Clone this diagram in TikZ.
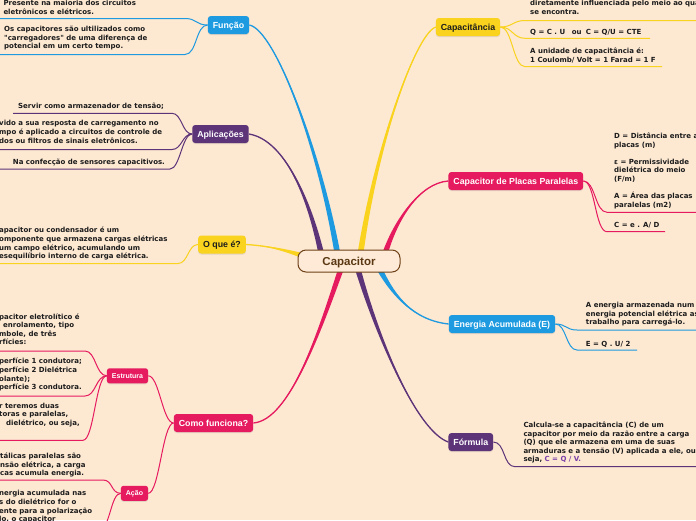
\documentclass[tikz,border=0pt]{standalone}
\usepackage{fontspec}
\usetikzlibrary{calc,shadows}
\newfontfamily\bodyfont{DejaVu Sans}
\newfontfamily\topicfont{Liberation Sans}
\definecolor{bgc}{HTML}{FDE8D2}
\definecolor{cblue}{HTML}{1E9BE0}
\definecolor{cpurp}{HTML}{5E3479}
\definecolor{cyel}{HTML}{F9D31E}
\definecolor{cpink}{HTML}{E61B5F}
\definecolor{txt}{HTML}{1C1C1C}
\definecolor{hubborder}{HTML}{6E4118}
\definecolor{hubtext}{HTML}{5B3813}
\definecolor{hubfill}{HTML}{FEEAD6}
\definecolor{formc}{HTML}{7A3FA8}
\pgfdeclarelayer{bg}
\pgfsetlayers{bg,main}
\newcommand\mainbranch[6]{%
  \fill[#1] ($#2+#6$) .. controls ($#3+0.5*#6$) and #4 .. #5
      .. controls #4 and ($#3-0.5*#6$) .. ($#2-#6$) -- cycle;
  \draw[#1, line width=1.3pt] #2 .. controls #3 and #4 .. #5;
}
\tikzset{
  body/.style={font=\bodyfont\bfseries\fontsize{7}{8.6}\selectfont, text=txt,
    align=left, inner sep=0pt, anchor=north west,
    execute at begin node={\rule{0pt}{6.5pt}}},
  topic/.style={font=\topicfont\bfseries\fontsize{8.8}{10}\selectfont, text=white,
    rounded corners=3pt, inner xsep=5pt, inner ysep=0pt, minimum height=18pt,
    text height=7pt, text depth=0.6pt,
    drop shadow={opacity=0.2, shadow xshift=0pt, shadow yshift=-1pt}},
  subtopic/.style={topic, font=\topicfont\bfseries\fontsize{7}{8}\selectfont,
    minimum height=15pt, text height=5.5pt, text depth=0.5pt, rounded corners=2.5pt},
  hub/.style={draw=hubborder, line width=1pt, fill=hubfill, rounded corners=8pt,
    minimum width=102pt, minimum height=22pt, inner sep=0pt,
    font=\topicfont\bfseries\fontsize{11.5}{12}\selectfont, text=hubtext,
    text height=8.2pt, text depth=0pt},
  link/.style={line width=1pt}
}
\begin{document}
\begin{tikzpicture}[x=1pt,y=-1pt]
\useasboundingbox (0,0) rectangle (696,520);
\clip (0,0) rectangle (696,520);

% ---------- topic nodes ----------
\node[hub] (cap) at (349,261) {Capacitor};
\node[topic, fill=cblue] (func) at (228.5,25) {Função};
\node[topic, fill=cpurp] (apl) at (220.5,134) {Aplicações};
\node[topic, fill=cyel, text=txt] (oque) at (222,244.5) {O que é?};
\node[topic, fill=cpink] (como) at (213.5,423) {Como funciona?};
\node[subtopic, fill=cpink] (estr) at (127.5,375.8) {Estrutura};
\node[subtopic, fill=cpink] (acao) at (134.5,493.3) {Ação};
\node[topic, fill=cyel, text=txt] (capc) at (468,27) {Capacitância};
\node[topic, fill=cpink] (plac) at (515.8,181) {Capacitor de Placas Paralelas};
\node[topic, fill=cblue] (ener) at (502,324) {Energia Acumulada (E)};
\node[topic, fill=cpurp] (form) at (470.8,442) {Fórmula};

% ---------- texts ----------
\node[body] (f1) at (3.3,0) {Presente na maioria dos circuitos\\eletrônicos e elétricos.};
\node[body] (f2) at (4,26) {Os capacitores são ultilizados como\\"carregadores" de uma diferença de\\potencial em um certo tempo.};
\node[body] (a1) at (18,101.7) {Servir como armazenador de tensão;};
\node[body] (a2) at (-1,120.3) {vido a sua resposta de carregamento no\\mpo é aplicado a circuitos de controle de\\dos ou filtros de sinais eletrônicos.};
\node[body] (a3) at (12.7,157.7) {Na confecção de sensores capacitivos.};
\node[body] (o1) at (-1,227) {apacitor ou condensador é um\\omponente que armazena cargas elétricas\\um campo elétrico, acumulando um\\esequilíbrio interno de carga elétrica.};
\node[body] (e1) at (-1,313.3) {pacitor eletrolítico é\\\hspace*{4pt}enrolamento, tipo\\mbole, de três\\rfícies:};
\node[body] (e2) at (-1,358) {perfície 1 condutora;\\perfície 2 Dielétrica\\olante);\\perfície 3 condutora.};
\node[body] (e3) at (-1,402.7) {r teremos duas\\toras e paralelas,\\\hspace*{7pt}dielétrico, ou seja,};
\node[body] (ac1) at (0,452.7) {tálicas paralelas são\\nsão elétrica, a carga\\cas acumula energia.};
\node[body] (ac2) at (-1,490.3) {nergia acumulada nas\\s do dielétrico for o\\ente para a polarização\\lo, o capacitor};

\node[body] (c1) at (530,0.3) {diretamente influenciada pelo meio ao qual\\se encontra.};
\node[body] (c2) at (530,27.7) {Q = C . U\hspace{6.5pt}ou\hspace{4.3pt}C = Q/U = CTE};
\node[body] (c3) at (530,47.7) {A unidade de capacitância é:\\1 Coulomb/ Volt = 1 Farad = 1 F};
\node[body] (p1) at (614,132.7) {D = Distância entre as\\placas (m)\\[8.6pt]ε = Permissividade\\dielétrica do meio\\(F/m)\\[8.6pt]A = Área das placas\\paralelas (m2)};
\node[body] (p2) at (614,221) {C = e . A/ D};
\node[body] (en1) at (585.7,302) {A energia armazenada num capacitor\\energia potencial elétrica associada\\trabalho para carregá-lo.};
\node[body] (en2) at (585.7,339.3) {E = Q . U/ 2};
\node[body] (fo1) at (523.3,421.7) {Calcula-se a capacitância (C) de um\\capacitor por meio da razão entre a carga\\(Q) que ele armazena em uma de suas\\armaduras e a tensão (V) aplicada a ele, ou\\seja, \textcolor{formc}{C = Q / V.}};

% ---------- underline end points ----------
\coordinate (f1a) at (185,18.5);   \coordinate (f1b) at (-2,18.5);
\coordinate (f2a) at (185,54.5);   \coordinate (f2b) at (-2,54.5);
\coordinate (a1a) at (172,113.3);  \coordinate (a1b) at (13,113.3);
\coordinate (a2a) at (172,149.5);  \coordinate (a2b) at (-2,149.5);
\coordinate (a3a) at (170,169);    \coordinate (a3b) at (-2,169);
\coordinate (o1a) at (178,263.5);  \coordinate (o1b) at (-2,263.5);
\coordinate (e1a) at (85,351);     \coordinate (e1b) at (-2,351);
\coordinate (e2a) at (85,396);     \coordinate (e2b) at (-2,396);
\coordinate (e3a) at (83,440.3);   \coordinate (e3b) at (-2,440.3);
\coordinate (ac1a) at (103,480);   \coordinate (ac1b) at (-2,480);
\coordinate (ac2a) at (100,529);   \coordinate (ac2b) at (-2,529);
\coordinate (c1a) at (525,20.5);   \coordinate (c1b) at (700,20.5);
\coordinate (c2a) at (525,38.3);   \coordinate (c2b) at (650,38.3);
\coordinate (c3a) at (525,66.7);   \coordinate (c3b) at (662,66.7);
\coordinate (p1a) at (607,212.3);  \coordinate (p1b) at (700,212.3);
\coordinate (p2a) at (607,231.7);  \coordinate (p2b) at (665,231.7);
\coordinate (en1a) at (577,330);   \coordinate (en1b) at (700,330);
\coordinate (en2a) at (577,350);   \coordinate (en2b) at (637,350);
\coordinate (fo1a) at (515,466.7); \coordinate (fo1b) at (700,466.7);

% ---------- branch roots in the central node ----------
\coordinate (rF) at ($(cap.center)+(-11,-4)$);
\coordinate (rA) at ($(cap.center)+(-27,-4)$);
\coordinate (rO) at ($(cap.center)+(-39,-3)$);
\coordinate (rC) at ($(cap.center)+(11,-4)$);
\coordinate (rP) at ($(cap.center)+(35,-4)$);
\coordinate (rE) at ($(cap.center)+(29,5)$);
\coordinate (rFo) at ($(cap.center)+(8,5)$);
\coordinate (rCo) at ($(cap.center)+(-7,5)$);

\begin{pgfonlayer}{bg}
\fill[bgc] (0,0) rectangle (696,520);
\clip (0,0) rectangle (696,520);
% main branches
\mainbranch{cblue}{(rF)}{(320,150)}{(275,30)}{(func.east)}{(3,0)}
\mainbranch{cpurp}{(rA)}{(310,200)}{(285,140)}{(apl.east)}{(3,0)}
\mainbranch{cyel}{(rO)}{(285,250)}{(270,246)}{(oque.east)}{(0,3)}
\mainbranch{cyel}{(rC)}{(375,150)}{(415,35)}{(capc.west)}{(3,0)}
\mainbranch{cpink}{(rP)}{(395,220)}{(420,183)}{(plac.west)}{(2.5,1.5)}
\mainbranch{cblue}{(rE)}{(390,290)}{(410,320)}{(ener.west)}{(2.7,-1.4)}
\mainbranch{cpurp}{(rFo)}{(375,330)}{(415,430)}{(form.west)}{(3,0)}
\mainbranch{cpink}{(rCo)}{(320,330)}{(290,420)}{(como.east)}{(3,0)}
% sub branches
\draw[link, cblue] (func.west) .. controls +(-12,0) and +(12,0) .. (f1a) -- (f1b);
\draw[link, cblue] (func.west) .. controls +(-12,0) and +(12,0) .. (f2a) -- (f2b);
\draw[link, cpurp] (apl.west) .. controls +(-10,0) and +(10,0) .. (a1a) -- (a1b);
\draw[link, cpurp] (apl.west) .. controls +(-10,0) and +(10,0) .. (a2a) -- (a2b);
\draw[link, cpurp] (apl.west) .. controls +(-10,0) and +(10,0) .. (a3a) -- (a3b);
\draw[link, cyel] (oque.west) .. controls +(-10,0) and +(10,0) .. (o1a) -- (o1b);
\draw[link, cpink] (como.west) .. controls +(-11,0) and +(11,0) .. (estr.east);
\draw[link, cpink] (como.west) .. controls +(-11,0) and +(11,0) .. (acao.east);
\draw[link, cpink] (estr.west) .. controls +(-11,0) and +(11,0) .. (e1a) -- (e1b);
\draw[link, cpink] (estr.west) .. controls +(-11,0) and +(11,0) .. (e2a) -- (e2b);
\draw[link, cpink] (estr.west) .. controls +(-11,0) and +(11,0) .. (e3a) -- (e3b);
\draw[link, cpink] (acao.west) .. controls +(-10,0) and +(10,0) .. (ac1a) -- (ac1b);
\draw[link, cpink] (acao.west) .. controls +(-10,0) and +(10,0) .. (ac2a) -- (ac2b);
\draw[link, cyel] (capc.east) .. controls +(12,0) and +(-12,0) .. (c1a) -- (c1b);
\draw[link, cyel] (capc.east) .. controls +(12,0) and +(-12,0) .. (c2a) -- (c2b);
\draw[link, cyel] (capc.east) .. controls +(12,0) and +(-12,0) .. (c3a) -- (c3b);
\draw[link, cpink] (plac.east) .. controls +(12,0) and +(-12,0) .. (p1a) -- (p1b);
\draw[link, cpink] (plac.east) .. controls +(12,0) and +(-12,0) .. (p2a) -- (p2b);
\draw[link, cblue] (ener.east) .. controls +(11,0) and +(-11,0) .. (en1a) -- (en1b);
\draw[link, cblue] (ener.east) .. controls +(11,0) and +(-11,0) .. (en2a) -- (en2b);
\draw[link, cpurp] (form.east) .. controls +(12,0) and +(-12,0) .. (fo1a) -- (fo1b);
\end{pgfonlayer}
\end{tikzpicture}
\end{document}
